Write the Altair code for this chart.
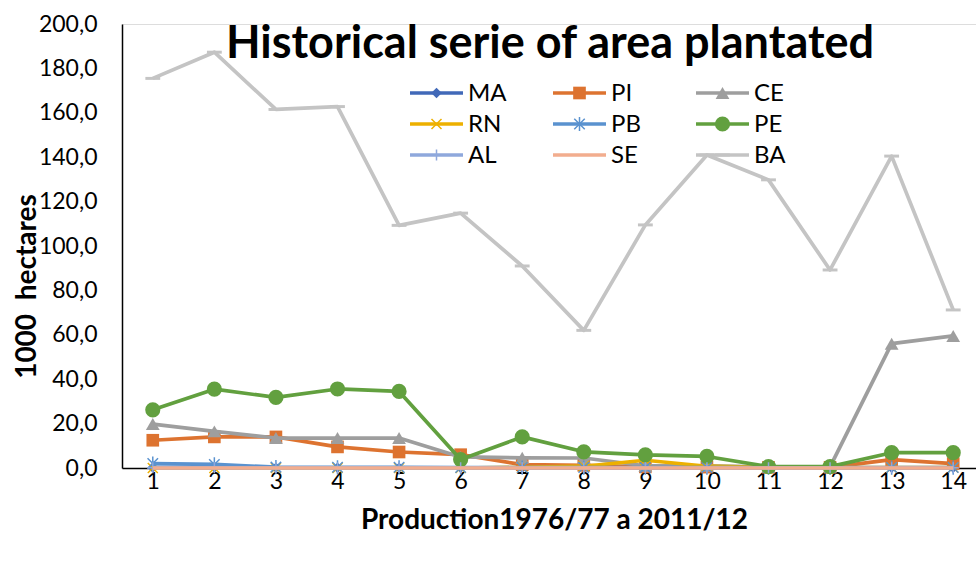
import altair as alt
import pandas as pd

# Crop year index (1 = 1976/77 ... 14 = 2011/12)
periods = list(range(1, 15))

# Planted area per state, thousand hectares
MA = [0.2, 0.2, 0.1, 0.1, 0.1, 0.1, 0.1, 0.1, 0.1, 0.1, 0.1, 0.1, 0.1, 0.1]
PI = [12.5, 14.0, 14.0, 9.5, 7.2, 6.0, 1.5, 1.2, 0.5, 0.4, 0.3, 0.3, 3.8, 2.0]
CE = [19.8, 16.5, 13.5, 13.5, 13.5, 5.0, 4.6, 4.5, 1.0, 1.0, 0.5, 0.5, 56.0, 59.5]
RN = [0.0, 0.0, 0.0, 0.0, 0.0, 0.0, 0.3, 0.8, 3.5, 0.8, 0.2, 0.2, 0.2, 0.2]
PB = [2.0, 1.6, 0.4, 0.3, 0.3, 0.2, 0.2, 0.2, 0.2, 0.2, 0.2, 0.2, 0.2, 0.2]
PE = [26.2, 35.5, 31.8, 35.6, 34.5, 3.8, 14.0, 7.3, 5.9, 5.2, 0.6, 0.6, 6.9, 6.9]
AL = [0.1, 0.1, 0.1, 0.1, 0.1, 0.1, 0.1, 0.1, 0.1, 0.1, 0.1, 0.1, 0.1, 0.1]
SE = [0.0, 0.0, 0.0, 0.0, 0.0, 0.0, 0.0, 0.0, 0.0, 0.0, 0.0, 0.0, 0.0, 0.0]
BA = [175.5, 187.3, 161.5, 162.8, 109.3, 114.8, 91.0, 62.0, 109.5, 141.0, 129.8, 89.2, 140.5, 71.2]

series_names = ["MA", "PI", "CE", "RN", "PB", "PE", "AL", "SE", "BA"]
series_values = [MA, PI, CE, RN, PB, PE, AL, SE, BA]

y_ticks = list(range(0, 201, 20))

title_text = "Historical serie of area plantated"
x_title = "Production1976/77 a 2011/12"
y_title = "1000\u00a0 hectares"

FONT = "Lato"

# Marker styling per series: colour, symbol, filled, symbol size, stroke width
X_PATH = "M-1,-1L1,1M-1,1L1,-1"
STAR_PATH = "M-1,-1L1,1M-1,1L1,-1M0,-1.35L0,1.35"
PLUS_PATH = "M0,-1L0,1M-1,0L1,0"
DASH_PATH = "M-1,-0.2L1,-0.2L1,0.2L-1,0.2Z"
styles = {
    "MA": ("#4169B8", "diamond", True, 110, 0),
    "PI": ("#DD7330", "square", True, 160, 0),
    "CE": ("#9E9E9E", "triangle-up", True, 190, 0),
    "RN": ("#EDB000", X_PATH, False, 100, 1.5),
    "PB": ("#5A92CF", STAR_PATH, False, 110, 1.5),
    "PE": ("#62A03F", "circle", True, 230, 0),
    "AL": ("#8FA8DC", PLUS_PATH, False, 120, 1.5),
    "SE": ("#F2AD8E", None, True, 0, 0),
    "BA": ("#C4C4C4", DASH_PATH, True, 220, 0),
}

# Plot area runs to the right edge of the page; the x domain is cut at the
# same point so the category spacing stays at ~61.6 px.
W, H = 854, 444
X_MAX = 0.5 + W / (862 / 14)
LINE_W = 3.7

x_enc = alt.X(
    "period:Q",
    scale=alt.Scale(domain=[0.5, X_MAX], nice=False, zero=False),
    axis=alt.Axis(
        values=periods, format="d", ticks=False, grid=False,
        domainColor="black", domainWidth=1.5,
        labelFont=FONT, labelFontSize=23, labelColor="black", labelPadding=2,
        title=x_title, titleFont=FONT, titleFontSize=28, titleFontWeight="bold",
        titleColor="black", titleX=432, titleY=52, titleAlign="center",
        titleBaseline="middle",
    ),
)
y_enc = alt.Y(
    "value:Q",
    scale=alt.Scale(domain=[0, 200], nice=False),
    axis=alt.Axis(
        values=y_ticks, ticks=False, grid=False,
        domainColor="black", domainWidth=1.5,
        labelExpr="replace(format(datum.value, '.1f'), '.', ',')",
        labelFont=FONT, labelFontSize=23, labelColor="black", labelPadding=25,
        title=y_title, titleFont=FONT, titleFontSize=28, titleFontWeight="bold",
        titleColor="black", titleAngle=270, titleX=-95, titleY=262,
        titleAlign="center", titleBaseline="middle",
    ),
)

layers = []
for name, vals in zip(series_names, series_values):
    color, shape, filled, size, sw = styles[name]
    df = pd.DataFrame({"period": periods, "value": vals, "series": name})
    base = alt.Chart(df).encode(x=x_enc, y=y_enc)
    layers.append(base.mark_line(color=color, strokeWidth=LINE_W, strokeJoin="round"))
    if shape is not None:
        if filled:
            layers.append(base.mark_point(shape=shape, filled=True, color=color,
                                          size=size, opacity=1, strokeWidth=0))
        else:
            layers.append(base.mark_point(shape=shape, filled=False, color=color,
                                          size=size, opacity=1, strokeWidth=sw))

# Legend: three columns of line + marker + label inside the plot area
LEG_X0, LEG_Y0, COL_STEP, ROW_STEP, SEG = 288, 69, 143, 31, 53
for i, name in enumerate(series_names):
    color, shape, filled, size, sw = styles[name]
    col, row = i % 3, i // 3
    lx = LEG_X0 + col * COL_STEP
    ly = LEG_Y0 + row * ROW_STEP
    item = alt.Chart(pd.DataFrame({"series": [name]}))
    layers.append(item.mark_rule(color=color, strokeWidth=LINE_W).encode(
        x=alt.value(lx), x2=alt.value(lx + SEG), y=alt.value(ly)))
    if shape is not None:
        if filled:
            mk = item.mark_point(shape=shape, filled=True, color=color,
                                 size=size, opacity=1, strokeWidth=0)
        else:
            mk = item.mark_point(shape=shape, filled=False, color=color,
                                 size=size, opacity=1, strokeWidth=sw)
        layers.append(mk.encode(x=alt.value(lx + SEG / 2), y=alt.value(ly)))
    layers.append(item.mark_text(align="left", baseline="middle", font=FONT,
                                 fontSize=24, color="black").encode(
        x=alt.value(lx + SEG + 5), y=alt.value(ly + 1), text="series:N"))

title_layer = alt.Chart(pd.DataFrame({"t": [title_text]})).mark_text(
    align="center", baseline="middle", font=FONT, fontSize=45,
    fontWeight="bold", color="black",
).encode(x=alt.value(428), y=alt.value(20), text="t:N")
layers.append(title_layer)

chart = alt.layer(*layers).properties(
    width=W, height=H,
    autosize=alt.AutoSizeParams(type="none"),
    padding={"left": 122, "top": 24, "right": 0, "bottom": 93},
).configure_view(stroke=None).configure(background="white")

chart.save("out.html", embed_options={"renderer": "svg", "actions": False})
